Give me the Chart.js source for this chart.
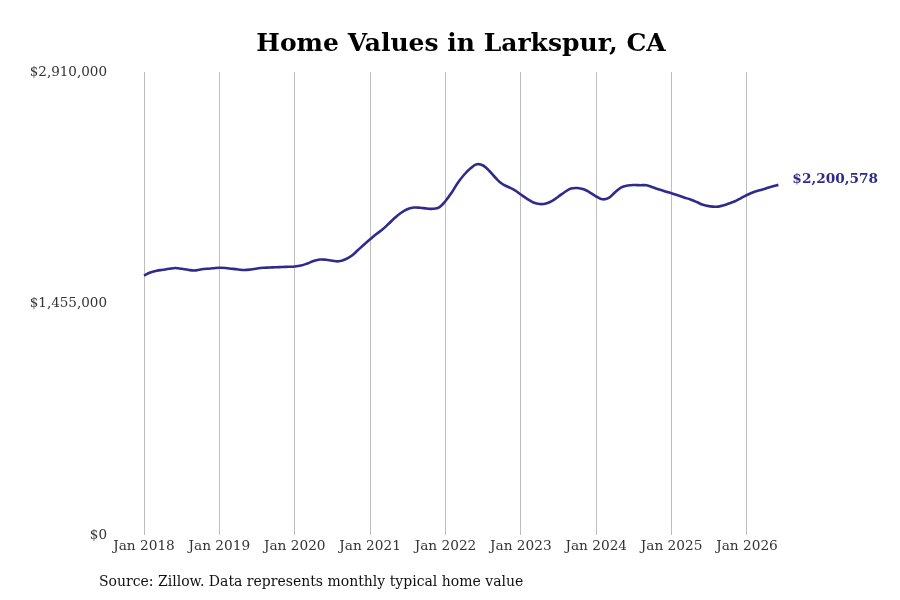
<!DOCTYPE html>
<html>
<head>
<meta charset="utf-8">
<script src="https://cdn.jsdelivr.net/npm/chart.js@4.4.1/dist/chart.umd.min.js"></script>
<style>
  html, body { margin: 0; padding: 0; background: #ffffff; }
  #wrap { width: 900px; height: 600px; position: relative; }
</style>
</head>
<body>
<div id="wrap"><canvas id="c" width="900" height="600"></canvas></div>
<script>
// Monthly typical home value, Jan 2018 .. Jun 2026
const startYear = 2018;
const homeValues = [
  1630000, 1649800, 1660500, 1666800, 1673100, 1678100, 1673100, 1666800, 1662400, 1668700, 1673100, 1676200,
  1679400, 1678100, 1673100, 1668700, 1665500, 1668700, 1675000, 1679400, 1681200, 1682500, 1684400, 1685600,
  1687500, 1693800, 1706400, 1722100, 1731500, 1729600, 1723300, 1720200, 1731500, 1753500, 1788100, 1823900,
  1858500, 1891800, 1921300, 1957800, 1995500, 2026900, 2048900, 2058300, 2056500, 2052000, 2050100, 2059600,
  2099200, 2152600, 2215500, 2265700, 2304700, 2329800, 2322300, 2287700, 2243700, 2207300, 2187200, 2168300,
  2140000, 2113000, 2089800, 2080300, 2083500, 2100400, 2127500, 2155800, 2177700, 2180900, 2172700, 2152600,
  2127500, 2109900, 2119300, 2153900, 2185300, 2196600, 2199800, 2198500, 2197900, 2185300, 2171500, 2158900,
  2148200, 2135000, 2121200, 2108600, 2092900, 2075300, 2066500, 2062700, 2069000, 2081600, 2096000, 2116200,
  2136900, 2153900, 2166400, 2177700, 2190300, 2200578
];
const xTickMonths = [0, 12, 24, 36, 48, 60, 72, 84, 96];
const xTickLabels = ['Jan 2018', 'Jan 2019', 'Jan 2020', 'Jan 2021', 'Jan 2022', 'Jan 2023', 'Jan 2024', 'Jan 2025', 'Jan 2026'];
const yTickValues = [0, 1455000, 2910000];
const yTickLabels = ['$0', '$1,455,000', '$2,910,000'];
const titleText = 'Home Values in Larkspur, CA';
const sourceText = 'Source: Zillow. Data represents monthly typical home value';
const endLabel = '$2,200,578';

const points = homeValues.map((v, i) => ({ x: i, y: v }));
const FONT = "'DejaVu Serif', serif";
const LINE_COLOR = '#2f2b8c';

const decor = {
  id: 'decor',
  afterDraw(chart) {
    const ctx = chart.ctx;
    ctx.save();
    ctx.fillStyle = '#000000';
    ctx.font = 'bold 25px ' + FONT;
    ctx.textAlign = 'center';
    ctx.textBaseline = 'middle';
    ctx.fillText(titleText, 461, 44);

    ctx.font = '14px ' + FONT;
    ctx.textAlign = 'left';
    ctx.fillStyle = '#111111';
    ctx.fillText(sourceText, 99, 582);

    const meta = chart.getDatasetMeta(0);
    const last = meta.data[meta.data.length - 1];
    ctx.font = 'bold 13.7px ' + FONT;
    ctx.fillStyle = LINE_COLOR;
    ctx.fillText(endLabel, last.x + 14, last.y - 5);
    ctx.restore();
  }
};

new Chart(document.getElementById('c'), {
  type: 'line',
  data: {
    datasets: [{
      data: points,
      borderColor: LINE_COLOR,
      borderWidth: 2.6,
      pointRadius: 0,
      tension: 0.4,
      fill: false
    }]
  },
  options: {
    responsive: false,
    animation: false,
    devicePixelRatio: 1,
    layout: { padding: { left: 0, right: 20, top: 72, bottom: 0 } },
    plugins: { legend: { display: false }, title: { display: false }, tooltip: { enabled: false } },
    scales: {
      x: {
        type: 'linear',
        min: -5.095,
        max: 117.18,
        afterBuildTicks(scale) { scale.ticks = xTickMonths.map(v => ({ value: v })); },
        afterFit(scale) { scale.height = 65; },
        grid: { display: true, color: '#bdbdbd', lineWidth: 1, drawTicks: false },
        border: { display: false },
        ticks: {
          padding: 3,
          color: '#333333',
          font: { family: FONT, size: 13.7 },
          maxRotation: 0,
          autoSkip: false,
          callback(v) { const i = xTickMonths.indexOf(v); return i >= 0 ? xTickLabels[i] : ''; }
        }
      },
      y: {
        min: 0,
        max: 2910000,
        afterBuildTicks(scale) { scale.ticks = yTickValues.map(v => ({ value: v })); },
        afterFit(scale) { scale.width = 112; },
        grid: { display: false, drawTicks: false },
        border: { display: false },
        ticks: {
          padding: 5,
          color: '#333333',
          font: { family: FONT, size: 13.5 },
          callback(v) { const i = yTickValues.indexOf(v); return i >= 0 ? yTickLabels[i] : ''; }
        }
      }
    }
  },
  plugins: [decor]
});
</script>
</body>
</html>
